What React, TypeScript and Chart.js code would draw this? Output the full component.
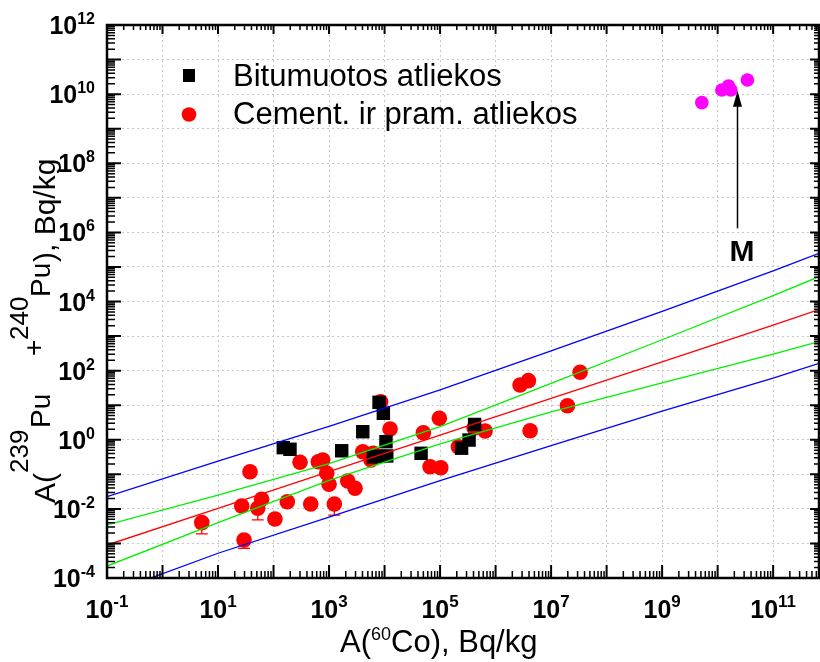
import React, { useEffect, useRef } from 'react';
import { Chart, registerables } from 'chart.js';

Chart.register(...registerables);

const FONT = '"Liberation Sans", Arial, Helvetica, sans-serif';

// ---- axis ranges and tick labels (exponents of 10) ----
const X_MIN = 0.1;
const X_MAX = 6.7e11;
const Y_MIN = 1e-4;
const Y_MAX = 1e12;
const xTickExps = [-1, 1, 3, 5, 7, 9, 11];
const yTickExps = [-4, -2, 0, 2, 4, 6, 8, 10, 12];
const xGridExps = [-1, 0, 1, 2, 3, 4, 5, 6, 7, 8, 9, 10, 11];
const yGridExps = [-4, -3, -2, -1, 0, 1, 2, 3, 4, 5, 6, 7, 8, 9, 10, 11, 12];

// ---- legend labels ----
const legendLabels = ['Bitumuotos atliekos', 'Cement. ir pram. atliekos'];

// ---- Bitumuotos atliekos (black squares) ----
const bitX = [150, 198, 1690, 4050, 7960, 9510, 10600, 6280, 8130, 10960, 45500, 244000, 333000, 419000];
const bitY = [0.59, 0.53, 0.48, 1.71, 12.1, 5.83, 0.88, 0.32, 0.33, 0.34, 0.405, 0.57, 0.98, 2.77];

// ---- Cement. ir pram. atliekos (red circles), with lower error-bar ends ----
const cemX = [5.1, 26.7, 29.4, 37.7, 52, 61, 106, 177, 300, 468, 641, 769, 909, 1000, 1245, 2170, 2940, 4050,
  5710, 6280, 8490, 12560, 50000, 66100, 97000, 103000, 214000, 410000, 647000, 2.76e6, 3.9e6, 4.19e6, 1.97e7, 3.33e7];
const cemY = [0.004, 0.0121, 0.00126, 0.119, 0.0104, 0.0189, 0.0051, 0.0161, 0.223, 0.0138, 0.232, 0.26, 0.107, 0.0514,
  0.0138, 0.0641, 0.0394, 0.45, 0.26, 0.405, 12.6, 2.05, 1.6, 0.166, 4.18, 0.155, 0.63, 2.19, 1.79, 38.5, 51.2, 1.83, 9.68, 89.5];
const cemErrLow: (number | null)[] = [0.0019, null, 0.00072, null, 0.0048, null, null, null, null, null, null, null, null, null,
  0.0066, null, null, null, null, null, null, null, null, null, null, null, null, null, null, null, null, null, null, null];

// ---- M group (magenta) ----
const mX = [5.19e9, 1.19e10, 1.57e10, 1.73e10, 3.44e10];
const mY = [5.66e9, 1.32e10, 1.72e10, 1.32e10, 2.57e10];

// ---- regression line and bands ----
const lineX = [0.1, 10, 1e3, 1e5, 1e7, 1e9, 1e11, 6.7e11];
const blueUpper = [0.0225, 0.242, 2.43, 27.7, 373, 5180, 76700, 248000];
const greenUpper = [0.00342, 0.0248, 0.203, 2.39, 42.7, 782, 14800, 52200];
const redFit = [9.0e-4, 0.0104, 0.119, 1.36, 15.7, 180, 2070, 5830];
const greenLower = [2.22e-4, 0.00399, 0.0665, 0.76, 6.43, 44, 301, 687];
const blueLower = [3.4e-5, 5.2e-4, 0.0058, 0.0659, 0.679, 6.68, 61, 163];

// ---- annotation "M" ----
const arrowX = 2.28e10;
const arrowYFrom = 1.31e6;
const arrowYTo = 1.26e10;
const mLabelX = 2.76e10;
const mLabelY = 1.52e5;

const pts = (xs: number[], ys: number[]) => xs.map((x, i) => ({ x, y: ys[i] }));

const lineDs = (label: string, ys: number[], color: string) => ({
  label,
  data: pts(lineX, ys),
  showLine: true,
  borderColor: color,
  backgroundColor: color,
  borderWidth: 1.3,
  pointRadius: 0,
  fill: false,
  tension: 0,
});

const drawPow = (ctx: any, exp: number, x: number, y: number, align: 'center' | 'right', baseSize: number, expSize: number, expRaise: number) => {
  ctx.font = `bold ${baseSize}px ${FONT}`;
  const wBase = ctx.measureText('10').width;
  ctx.font = `bold ${expSize}px ${FONT}`;
  const expStr = String(exp);
  const wExp = ctx.measureText(expStr).width;
  const total = wBase + wExp;
  const left = align === 'center' ? x - total / 2 : x - total;
  ctx.textAlign = 'left';
  ctx.textBaseline = 'alphabetic';
  ctx.font = `bold ${baseSize}px ${FONT}`;
  ctx.fillText('10', left, y);
  ctx.font = `bold ${expSize}px ${FONT}`;
  ctx.fillText(expStr, left + wBase, y - expRaise);
};

const decorPlugin = {
  id: 'decor',
  beforeDatasetsDraw(chart: any) {
    const ctx = chart.ctx;
    const xs = chart.scales.x;
    const ys = chart.scales.y;
    ctx.save();
    ctx.strokeStyle = '#ff0000';
    ctx.lineWidth = 1.3;
    cemErrLow.forEach((low, i) => {
      if (low == null) return;
      const px = xs.getPixelForValue(cemX[i]);
      const py = ys.getPixelForValue(cemY[i]);
      const pl = ys.getPixelForValue(low);
      ctx.beginPath();
      ctx.moveTo(px, py);
      ctx.lineTo(px, pl);
      ctx.moveTo(px - 6, pl);
      ctx.lineTo(px + 6, pl);
      ctx.stroke();
    });
    ctx.restore();
  },
  afterDatasetsDraw(chart: any) {
    const ctx = chart.ctx;
    const xs = chart.scales.x;
    const ys = chart.scales.y;
    ctx.save();
    const ax = xs.getPixelForValue(arrowX);
    const ay0 = ys.getPixelForValue(arrowYFrom);
    const ay1 = ys.getPixelForValue(arrowYTo);
    ctx.strokeStyle = '#000';
    ctx.fillStyle = '#000';
    ctx.lineWidth = 1.5;
    ctx.beginPath();
    ctx.moveTo(ax, ay0);
    ctx.lineTo(ax, ay1 + 10);
    ctx.stroke();
    ctx.beginPath();
    ctx.moveTo(ax, ay1);
    ctx.lineTo(ax - 4.5, ay1 + 16);
    ctx.lineTo(ax + 4.5, ay1 + 16);
    ctx.closePath();
    ctx.fill();
    ctx.font = `bold 30px ${FONT}`;
    ctx.textAlign = 'center';
    ctx.textBaseline = 'alphabetic';
    ctx.fillText('M', xs.getPixelForValue(mLabelX), ys.getPixelForValue(mLabelY));
    ctx.restore();
  },
  afterDraw(chart: any) {
    const ctx = chart.ctx;
    const xs = chart.scales.x;
    const ys = chart.scales.y;
    const { left, right, top, bottom } = chart.chartArea;
    ctx.save();
    ctx.strokeStyle = '#000';
    ctx.fillStyle = '#000';

    // inside tick marks
    const minorK = [2, 3, 4, 5, 6, 7, 8, 9];
    for (let e = -1; e <= 11; e++) {
      const vals = [{ v: Math.pow(10, e), major: true }, ...minorK.map((k) => ({ v: k * Math.pow(10, e), major: false }))];
      vals.forEach(({ v, major }) => {
        if (v < X_MIN || v > X_MAX) return;
        const px = xs.getPixelForValue(v);
        ctx.lineWidth = major ? 2 : 1.5;
        ctx.beginPath();
        ctx.moveTo(px, bottom);
        ctx.lineTo(px, bottom - (major ? 13 : 7));
        ctx.moveTo(px, top);
        ctx.lineTo(px, top + (major ? 9 : 5));
        ctx.stroke();
      });
    }
    for (let e = -4; e <= 12; e++) {
      const vals = [{ v: Math.pow(10, e), major: true }, ...minorK.map((k) => ({ v: k * Math.pow(10, e), major: false }))];
      vals.forEach(({ v, major }) => {
        if (v < Y_MIN || v > Y_MAX * 1.0001) return;
        const py = ys.getPixelForValue(v);
        ctx.lineWidth = major ? 2 : 1.5;
        ctx.beginPath();
        ctx.moveTo(left, py);
        ctx.lineTo(left + (major ? 14 : 8), py);
        ctx.moveTo(right, py);
        ctx.lineTo(right - (major ? 9 : 5), py);
        ctx.stroke();
      });
    }

    // frame
    ctx.lineWidth = 2.5;
    ctx.strokeRect(left, top, right - left, bottom - top);

    // tick labels
    xTickExps.forEach((e) => {
      drawPow(ctx, e, xs.getPixelForValue(Math.pow(10, e)), 618, 'center', 25, 17, 11);
    });
    yTickExps.forEach((e) => {
      drawPow(ctx, e, 95, ys.getPixelForValue(Math.pow(10, e)) + 9, 'right', 25, 16, 10);
    });

    // x title
    ctx.textAlign = 'left';
    ctx.textBaseline = 'alphabetic';
    const xSegs = [
      { t: 'A(', s: 31, r: 0 },
      { t: '60', s: 18, r: 12 },
      { t: 'Co), Bq/kg', s: 31, r: 0 },
    ];
    let pos = 340;
    xSegs.forEach((sg) => {
      ctx.font = `${sg.s}px ${FONT}`;
      ctx.fillText(sg.t, pos, 652 - sg.r);
      pos += ctx.measureText(sg.t).width;
    });

    // y title (rotated); each segment placed at its measured offset along the axis
    ctx.save();
    ctx.translate(55, 503);
    ctx.rotate(-Math.PI / 2);
    const ySegs = [
      { t: 'A(', s: 30, r: 0, at: 0 },
      { t: '239', s: 26, r: 27, at: 30 },
      { t: 'Pu', s: 28, r: 5, at: 75 },
      { t: '+', s: 28, r: 12, at: 147 },
      { t: '240', s: 26, r: 27, at: 163 },
      { t: 'Pu', s: 28, r: 5, at: 206 },
      { t: '), Bq/kg', s: 30, r: 0, at: 241 },
    ];
    ySegs.forEach((sg) => {
      ctx.font = `${sg.s}px ${FONT}`;
      ctx.fillText(sg.t, sg.at, -sg.r);
    });
    ctx.restore();

    // legend (inside plot)
    ctx.fillStyle = '#000';
    ctx.fillRect(183, 69, 12, 13);
    ctx.fillStyle = '#ff0000';
    ctx.beginPath();
    ctx.arc(189, 114.5, 7.3, 0, Math.PI * 2);
    ctx.fill();
    ctx.fillStyle = '#000';
    ctx.font = `31px ${FONT}`;
    ctx.fillText(legendLabels[0], 233, 86);
    ctx.fillText(legendLabels[1], 233, 124);

    ctx.restore();
  },
};

export default function App() {
  const canvasRef = useRef<HTMLCanvasElement | null>(null);

  useEffect(() => {
    const canvas = canvasRef.current;
    if (!canvas) return;
    const gridOpts = {
      color: '#c8c8c8',
      lineWidth: 1,
      drawTicks: false,
    };
    const chart = new Chart(canvas, {
      type: 'scatter',
      data: {
        datasets: [
          lineDs('upper prediction', blueUpper, '#0000ff'),
          lineDs('upper confidence', greenUpper, '#00f000'),
          lineDs('fit', redFit, '#ff0000'),
          lineDs('lower confidence', greenLower, '#00f000'),
          lineDs('lower prediction', blueLower, '#0000ff'),
          {
            label: legendLabels[0],
            data: pts(bitX, bitY),
            pointStyle: 'rect',
            pointRadius: 9.5,
            backgroundColor: '#000000',
            borderColor: '#000000',
            borderWidth: 0,
          },
          {
            label: legendLabels[1],
            data: pts(cemX, cemY),
            pointStyle: 'circle',
            pointRadius: 7.8,
            backgroundColor: '#ff0000',
            borderColor: '#ff0000',
            borderWidth: 0,
          },
          {
            label: 'M',
            data: pts(mX, mY),
            pointStyle: 'circle',
            pointRadius: 6.8,
            backgroundColor: '#ff00ff',
            borderColor: '#ff00ff',
            borderWidth: 0,
          },
        ] as any,
      },
      options: {
        responsive: false,
        animation: false,
        events: [],
        layout: { autoPadding: false, padding: { left: 107, top: 25, right: 1, bottom: 84 } },
        plugins: { legend: { display: false }, tooltip: { enabled: false } },
        scales: {
          x: {
            type: 'logarithmic',
            min: X_MIN,
            max: X_MAX,
            ticks: { display: false },
            grid: gridOpts,
            border: { display: false, dash: [2, 3] },
            afterBuildTicks: (s: any) => {
              s.ticks = xGridExps.map((e) => ({ value: Math.pow(10, e), major: true }));
            },
          },
          y: {
            type: 'logarithmic',
            min: Y_MIN,
            max: Y_MAX,
            ticks: { display: false },
            grid: gridOpts,
            border: { display: false, dash: [2, 3] },
            afterBuildTicks: (s: any) => {
              s.ticks = yGridExps.map((e) => ({ value: Math.pow(10, e), major: true }));
            },
          },
        },
      } as any,
      plugins: [decorPlugin as any],
    });
    return () => chart.destroy();
  }, []);

  return (
    <div style={{ position: 'fixed', left: 0, top: 0, width: 820, height: 662, background: '#fff' }}>
      <canvas ref={canvasRef} width={820} height={662} style={{ display: 'block' }} />
    </div>
  );
}
